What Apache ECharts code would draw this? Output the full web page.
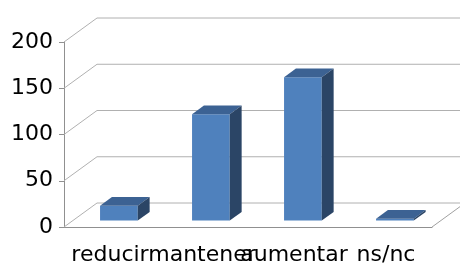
<!DOCTYPE html>
<html>
<head>
<meta charset="utf-8">
<script src="https://cdn.jsdelivr.net/npm/echarts@6/dist/echarts.min.js"></script>
<style>
    html, body { margin: 0; padding: 0; background: #fff; }
    #chart { width: 460px; height: 266px; }
</style>
</head>
<body>
<div id="chart"></div>
<script>
// datos
var categories = ['reducir', 'mantener', 'aumentar', 'ns/nc'];
var valores = [16, 115, 155, 2];
var yTicks = [0, 50, 100, 150, 200];

// perspectiva (desplazamiento del fondo)
var DX = 33, DY = 24;
var BAR_FRONT = 0.27, BAR_DEPTH = 0.36, BAR_W = 0.41;
var FONT = 'DejaVu Sans, sans-serif';

var chart = echarts.init(document.getElementById('chart'));

function renderBar(params, api) {
    var i = api.value(0), v = api.value(1);
    var base = api.coord([i, 0]);
    var top = api.coord([i, v]);
    var w = api.size([1, 0])[0] * BAR_W;
    var ox = BAR_FRONT * DX, oy = -BAR_FRONT * DY;
    var dx = BAR_DEPTH * DX, dy = -BAR_DEPTH * DY;
    var x0 = base[0] - w / 2 + ox, x1 = x0 + w;
    var yb = base[1] + oy, yt = top[1] + oy;
    return {
        type: 'group',
        children: [
            {   // cara frontal
                type: 'rect',
                shape: { x: x0, y: yt, width: w, height: yb - yt },
                style: { fill: '#4f81bd' }
            },
            {   // tapa
                type: 'polygon',
                shape: { points: [[x0, yt], [x1, yt], [x1 + dx, yt + dy], [x0 + dx, yt + dy]] },
                style: { fill: '#3c6293' }
            },
            {   // lateral
                type: 'polygon',
                shape: { points: [[x1, yt], [x1 + dx, yt + dy], [x1 + dx, yb + dy], [x1, yb]] },
                style: { fill: '#2b4566' }
            }
        ]
    };
}

function renderGrid(params, api) {
    var cs = params.coordSys;
    var p = api.coord([0, api.value(0)]);
    var x = cs.x, y = p[1];
    var children = [{
        type: 'polyline',
        shape: { points: [[x, y], [x + DX, y - DY], [460, y - DY]] },
        style: { stroke: '#b0b0b0', lineWidth: 1, fill: null }
    }];
    if (api.value(0) === 0) {
        children.push({
            type: 'line',
            shape: { x1: x + cs.width, y1: y, x2: x + cs.width + DX, y2: y - DY },
            style: { stroke: '#a0a0a0', lineWidth: 1 }
        });
    }
    return { type: 'group', children: children };
}

var option = {
    animation: false,
    grid: { left: 64, right: 28, top: 42, bottom: 37 },
    xAxis: {
        type: 'category',
        data: categories,
        axisLine: { lineStyle: { color: '#909090' } },
        axisTick: { length: 6, lineStyle: { color: '#909090' } },
        axisLabel: {
            interval: 0, margin: 17,
            color: '#000', fontSize: 22, fontFamily: FONT
        }
    },
    yAxis: {
        type: 'value',
        min: 0, max: 200, interval: 50,
        splitLine: { show: false },
        axisLine: { show: true, lineStyle: { color: '#909090' } },
        axisTick: { show: true, length: 5, lineStyle: { color: '#909090' } },
        axisLabel: {
            margin: 11,
            color: '#000', fontSize: 22, fontFamily: FONT
        }
    },
    series: [
        {
            type: 'custom',
            renderItem: renderGrid,
            data: yTicks.map(function (t) { return [t]; }),
            encode: { y: 0 },
            silent: true,
            z: 1
        },
        {
            type: 'custom',
            renderItem: renderBar,
            data: valores.map(function (v, i) { return [i, v]; }),
            encode: { x: 0, y: 1 },
            z: 2
        }
    ]
};
chart.setOption(option);
</script>
</body>
</html>
